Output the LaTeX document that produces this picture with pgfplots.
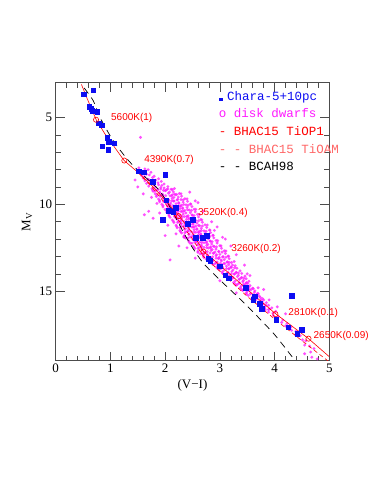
\documentclass[border=0pt]{standalone}
\usepackage{fontspec}
\setmainfont{Liberation Serif}
\newfontfamily\annfont{Liberation Sans}
\newfontfamily\legfont{Liberation Mono}
\usepackage{pgfplots}
\pgfplotsset{compat=1.18}
\definecolor{dotmag}{rgb}{1,0.1,1}
\definecolor{lightred}{rgb}{1,0.4,0.4}
\definecolor{sqblue}{rgb}{0.05,0.05,0.95}
\begin{document}
\begin{tikzpicture}
\path[use as bounding box] (-55.7pt,-134.3pt) rectangle (327.3pt,360.7pt);
\begin{axis}[at={(0pt,0pt)},anchor=south west,scale only axis,width=273.6pt,height=278pt,
xmin=0,xmax=5,ymin=3,ymax=19,y dir=reverse,
xtick={0,1,2,3,4,5},ytick={5,10,15},minor x tick num=4,minor y tick num=4,
major tick length=9pt,minor tick length=5pt,
tick style={black!70,line width=0.5pt},
axis line style={black!70,line width=0.6pt},
/pgf/number format/assume math mode=true,
tick label style={font=\fontsize{13}{13}\selectfont},
xlabel={(V−I)}, ylabel={M\textsubscript{V}},
label style={font=\fontsize{13}{13}\selectfont},
clip mode=individual,
]
% disk dwarfs
\addplot[only marks, mark=*, mark size=1.45pt, color=dotmag, fill opacity=0.75, draw opacity=0.3] coordinates {
(1.52,7.90)(1.63,7.96)(1.50,8.05)(1.58,8.11)(1.69,8.01)(1.55,8.20)(1.66,8.26)(1.74,8.16)
(1.57,8.35)(1.62,8.41)(1.71,8.31)(1.80,8.38)(1.60,8.50)(1.68,8.56)(1.77,8.46)(1.88,8.53)
(1.63,8.65)(1.74,8.71)(1.83,8.61)(1.93,8.68)(1.70,8.58)(1.66,8.80)(1.79,8.86)(1.87,8.76)(1.98,8.83)(1.73,8.73)
(1.70,8.95)(1.82,9.01)(1.94,8.91)(2.05,8.98)(1.88,8.88)
(1.76,9.10)(1.87,9.16)(1.98,9.06)(2.11,9.13)(1.92,9.03)(2.03,9.15)
(1.78,9.25)(1.90,9.31)(2.01,9.21)(2.15,9.28)(1.84,9.18)(2.08,9.30)
(1.82,9.40)(1.96,9.46)(2.06,9.36)(2.21,9.43)(1.90,9.33)(2.13,9.45)(2.26,9.38)
(1.84,9.55)(1.97,9.61)(2.09,9.51)(2.24,9.58)(1.92,9.48)(2.16,9.60)(2.30,9.53)
(1.88,9.70)(2.02,9.76)(2.13,9.66)(2.29,9.73)(1.96,9.63)(2.22,9.75)(2.36,9.68)(2.07,9.78)
(1.90,9.85)(2.04,9.91)(2.16,9.81)(2.33,9.88)(1.98,9.78)(2.25,9.90)(2.41,9.83)(2.10,9.93)
(1.94,10.00)(2.08,10.06)(2.20,9.96)(2.38,10.03)(2.02,9.93)(2.30,10.05)(2.46,9.98)(2.14,10.08)(2.25,9.95)
(1.96,10.15)(2.11,10.21)(2.23,10.11)(2.40,10.18)(2.04,10.08)(2.32,10.20)(2.49,10.13)(2.17,10.23)(2.28,10.10)
(2.00,10.30)(2.15,10.36)(2.27,10.26)(2.44,10.33)(2.08,10.23)(2.36,10.35)(2.53,10.28)(2.21,10.38)(2.32,10.25)
(2.03,10.45)(2.17,10.51)(2.29,10.41)(2.46,10.48)(2.10,10.38)(2.38,10.50)(2.55,10.43)(2.23,10.53)(2.34,10.40)
(2.07,10.60)(2.21,10.66)(2.33,10.56)(2.50,10.63)(2.14,10.53)(2.42,10.65)(2.59,10.58)(2.27,10.68)
(2.09,10.75)(2.24,10.81)(2.35,10.71)(2.52,10.78)(2.17,10.68)(2.44,10.80)(2.61,10.73)(2.30,10.83)(2.39,10.70)
(2.13,10.90)(2.28,10.96)(2.39,10.86)(2.56,10.93)(2.21,10.83)(2.48,10.95)(2.65,10.88)(2.34,10.98)(2.43,10.85)
(2.16,11.05)(2.30,11.11)(2.42,11.01)(2.58,11.08)(2.24,10.98)(2.51,11.10)(2.68,11.03)(2.36,11.13)(2.46,11.00)
(2.20,11.20)(2.34,11.26)(2.46,11.16)(2.63,11.23)(2.28,11.13)(2.56,11.25)(2.73,11.18)(2.41,11.28)(2.51,11.15)
(2.22,11.35)(2.37,11.41)(2.49,11.31)(2.66,11.38)(2.30,11.28)(2.58,11.40)(2.76,11.33)(2.43,11.43)(2.53,11.30)
(2.27,11.50)(2.41,11.56)(2.53,11.46)(2.71,11.53)(2.35,11.43)(2.63,11.55)(2.81,11.48)(2.48,11.58)(2.58,11.45)
(2.30,11.65)(2.44,11.71)(2.56,11.61)(2.73,11.68)(2.38,11.58)(2.65,11.70)(2.83,11.63)(2.51,11.73)(2.61,11.60)
(2.35,11.80)(2.49,11.86)(2.61,11.76)(2.77,11.83)(2.43,11.73)(2.70,11.85)(2.87,11.78)(2.56,11.88)(2.65,11.75)
(2.38,11.95)(2.52,12.01)(2.63,11.91)(2.79,11.98)(2.46,11.88)(2.72,12.00)(2.89,11.93)(2.58,12.03)
(2.43,12.10)(2.57,12.16)(2.68,12.06)(2.83,12.13)(2.51,12.03)(2.76,12.15)(2.93,12.08)(2.63,12.18)
(2.46,12.25)(2.60,12.31)(2.71,12.21)(2.85,12.28)(2.54,12.18)(2.78,12.30)(2.95,12.23)(2.66,12.33)
(2.51,12.40)(2.65,12.46)(2.76,12.36)(2.90,12.43)(2.59,12.33)(2.83,12.45)(3.00,12.38)(2.71,12.48)
(2.54,12.55)(2.68,12.61)(2.79,12.51)(2.93,12.58)(2.62,12.48)(2.86,12.60)(3.03,12.53)
(2.60,12.70)(2.73,12.76)(2.84,12.66)(2.98,12.73)(2.67,12.63)(2.91,12.75)(3.08,12.68)
(2.64,12.85)(2.77,12.91)(2.88,12.81)(3.00,12.88)(2.71,12.78)(2.94,12.90)(3.10,12.83)
(2.70,13.00)(2.83,13.06)(2.93,12.96)(3.05,13.03)(2.77,12.93)(2.99,13.05)(3.15,12.98)
(2.75,13.15)(2.87,13.21)(2.97,13.11)(3.08,13.18)(2.81,13.08)(3.02,13.20)(3.17,13.13)
(2.82,13.30)(2.93,13.36)(3.03,13.26)(3.13,13.33)(2.88,13.23)(3.21,13.35)
(2.87,13.45)(2.97,13.51)(3.07,13.41)(3.16,13.48)(2.93,13.38)(3.23,13.50)
(2.94,13.60)(3.03,13.66)(3.12,13.56)(3.21,13.63)(3.28,13.53)
(2.98,13.75)(3.07,13.81)(3.16,13.71)(3.24,13.78)(3.31,13.68)
(3.04,13.90)(3.13,13.96)(3.22,13.86)(3.30,13.93)(3.37,13.83)
(3.08,14.05)(3.17,14.11)(3.26,14.01)(3.34,14.08)(3.40,13.98)
(3.15,14.20)(3.23,14.26)(3.32,14.16)(3.39,14.23)(3.46,14.13)
(3.19,14.35)(3.28,14.41)(3.36,14.31)(3.43,14.38)(3.48,14.28)
(3.25,14.50)(3.34,14.56)(3.42,14.46)(3.48,14.53)(3.53,14.43)
(3.30,14.65)(3.39,14.71)(3.46,14.61)(3.55,14.68)
(3.37,14.80)(3.46,14.86)(3.53,14.76)(3.60,14.83)
(3.42,14.95)(3.50,15.01)(3.57,14.91)(3.64,14.98)
(3.48,15.10)(3.56,15.16)(3.63,15.06)(3.69,15.13)
(3.52,15.25)(3.60,15.31)(3.67,15.21)(3.72,15.28)
(3.59,15.40)(3.67,15.46)(3.74,15.36)(3.78,15.43)
(3.64,15.55)(3.71,15.61)(3.80,15.51)
(3.70,15.70)(3.78,15.76)(3.85,15.66)
(3.75,15.85)(3.82,15.91)(3.89,15.81)
(3.82,16.00)(3.89,16.06)(3.95,15.96)
(3.89,16.20)(3.97,16.26)(4.02,16.16)
(3.98,16.40)(4.07,16.46)(4.05,16.60)(4.15,16.66)
(4.13,16.80)(4.23,16.86)(4.20,17.00)(4.30,17.06)
(4.31,17.25)(4.39,17.31)(4.38,17.50)(4.47,17.56)
(4.51,17.80)(4.57,17.86)(4.55,18.10)(4.64,18.16)(4.66,18.5)(4.68,18.8)
(1.55,6.15)(2.09,13.2)(1.62,10.6)(1.78,10.8)(1.70,10.4)(2.45,9.3)(2.60,9.9)(3.10,12.0)(2.00,11.8)
(2.25,12.4)(3.50,14.0)(1.60,9.4)(2.90,11.5)(3.80,14.9)(4.20,16.3)(1.85,9.95)(2.35,11.9)(2.70,12.9)
(1.77,9.17)(1.92,9.12)(2.00,9.21)(2.13,9.15)(1.81,9.24)(2.05,9.11)(1.97,9.20)(2.17,9.09)
(1.85,9.47)(1.95,9.42)(2.12,9.51)(2.19,9.45)(1.91,9.54)(2.17,9.41)(2.01,9.50)(2.29,9.39)
(1.90,9.77)(2.06,9.72)(2.16,9.81)(2.33,9.75)(1.97,9.84)(2.23,9.71)(2.12,9.80)(2.40,9.69)
(1.96,10.07)(2.09,10.02)(2.27,10.11)(2.42,10.05)(2.05,10.14)(2.34,10.01)(2.18,10.10)(2.47,9.99)
(2.03,10.37)(2.19,10.32)(2.31,10.41)(2.48,10.35)(2.11,10.44)(2.41,10.31)(2.24,10.40)(2.56,10.29)
(2.07,10.67)(2.27,10.62)(2.41,10.71)(2.53,10.65)(2.18,10.74)(2.49,10.61)(2.31,10.70)(2.63,10.59)
(2.15,10.97)(2.29,10.92)(2.47,11.01)(2.61,10.95)(2.23,11.04)(2.52,10.91)(2.39,11.00)(2.67,10.89)
(2.21,11.27)(2.38,11.22)(2.51,11.31)(2.68,11.25)(2.27,11.34)(2.61,11.21)(2.44,11.30)(2.77,11.19)
(2.28,11.57)(2.43,11.52)(2.61,11.61)(2.75,11.55)(2.36,11.64)(2.66,11.51)(2.53,11.60)(2.82,11.49)
(2.34,11.87)(2.53,11.82)(2.66,11.91)(2.82,11.85)(2.42,11.94)(2.75,11.81)(2.60,11.90)(2.88,11.79)
(2.44,12.17)(2.58,12.12)(2.75,12.21)(2.86,12.15)(2.49,12.24)(2.82,12.11)(2.67,12.20)(2.96,12.09)
(2.53,12.47)(2.67,12.42)(2.83,12.51)(2.94,12.45)(2.60,12.54)(2.88,12.41)(2.76,12.50)(3.02,12.39)
(2.60,12.77)(2.77,12.72)(2.89,12.81)(3.04,12.75)(2.67,12.84)(2.98,12.71)(2.82,12.80)(3.11,12.69)
(2.71,13.07)(2.87,13.02)(2.98,13.11)(3.11,13.05)(2.79,13.14)(3.06,13.01)(2.93,13.10)(3.16,12.99)
(2.84,13.37)(2.95,13.32)(3.09,13.41)(3.17,13.35)(2.90,13.44)(3.14,13.31)(3.01,13.40)(3.26,13.29)
(2.95,13.67)(3.05,13.62)(3.17,13.71)(3.27,13.65)(3.00,13.74)(3.20,13.61)(3.12,13.70)
(3.05,13.97)(3.15,13.92)(3.27,14.01)(3.34,13.95)(3.11,14.04)(3.30,13.91)(3.21,14.00)
(3.16,14.27)(3.24,14.22)(3.35,14.31)(3.44,14.25)(3.19,14.34)(3.40,14.21)
(3.27,14.57)(3.36,14.52)(3.43,14.61)(3.51,14.55)(3.31,14.64)(3.49,14.51)
(3.39,14.87)(3.45,14.82)(3.54,14.91)(3.61,14.85)(3.41,14.94)
(3.49,15.17)(3.56,15.12)(3.62,15.21)(3.70,15.15)
(3.60,15.47)(3.65,15.42)(3.75,15.51)
(3.72,15.77)(3.79,15.72)(3.84,15.81)
(3.83,16.07)(3.91,16.02)
(2.55,9.8)(2.70,10.4)(2.85,11.0)(2.95,11.3)(3.05,11.9)(3.20,12.4)(3.30,12.9)(3.45,13.5)
(3.55,14.1)(3.70,14.8)(3.90,15.5)(4.05,15.9)(1.75,9.6)(1.90,10.5)(2.05,11.2)(2.20,11.7)
(2.40,12.5)(1.50,9.0)(1.45,8.6)(2.55,13.1)(3.00,14.4)(3.30,15.1)(4.55,18.6)(4.78,18.9)(4.72,18.3)
};
% BCAH98
\addplot[black, line width=0.7pt, dash pattern=on 7pt off 5pt, smooth, tension=0.4] coordinates {
(0.52,3.3)(0.687,4.04)(0.81,5.0)(1.05,6.34)(1.33,7.48)(1.57,8.24)(1.88,9.15)(2.05,9.95)(2.2,10.8)(2.35,11.7)(2.5,12.5)(2.7,13.4)(3.0,14.35)(3.5,15.85)(4.0,17.5)(4.375,19.0)
};
% BHAC15 TiOAM
\addplot[red, line width=0.6pt, dash pattern=on 4pt off 3pt] coordinates {
(1.5,8.15)(1.75,8.98)(2.0,9.95)(2.25,10.95)(2.5,12.0)(2.7,13.0)(3.0,13.85)(3.5,15.3)(4.0,16.6)(4.5,17.85)(4.97,19.0)
};
% BHAC15 TiOP1
\addplot[red, line width=0.6pt] coordinates {
(0.47,3.1)(0.6,4.1)(0.74,5.13)(0.9,5.95)(1.05,6.6)(1.25,7.48)(1.5,8.15)(1.75,8.9)(2.0,9.75)(2.25,10.65)(2.5,11.65)(2.7,12.71)(3.0,13.5)(3.5,14.9)(4.0,16.25)(4.62,17.73)(5.0,18.77)
};
% Chara stars
\addplot[only marks, mark=square*, mark size=2.3pt, color=sqblue] coordinates {
(0.517,3.66)(0.682,3.43)(0.61,4.37)(0.651,4.5)(0.67,4.62)(0.76,4.66)(0.79,5.32)(0.84,5.44)
(0.94,6.18)(0.97,6.39)(1.07,6.49)(0.85,6.66)(0.96,6.87)(1.52,8.09)(1.61,8.15)(1.77,8.69)(2.0,8.3)
(1.95,10.88)(2.02,9.77)(2.07,10.35)(2.15,10.44)(2.19,10.2)(2.41,11.1)(2.50,10.88)(2.56,11.93)
(2.69,11.93)(2.76,11.82)(2.79,13.12)(2.82,13.25)(3.0,13.56)(3.10,14.07)(3.16,14.26)(3.47,14.8)
(3.64,15.28)(3.61,15.5)(3.73,15.73)(3.77,16.02)(4.31,15.26)(4.03,16.65)(4.25,17.07)(4.41,17.45)(4.50,17.22)
};
% model points
\addplot[only marks, mark=o, mark size=2.6pt, red, line width=0.6pt] coordinates {
(0.737,5.13)(1.254,7.48)(2.25,10.68)(2.70,12.72)(4.015,16.32)(4.62,17.73)
};
% legend symbol
\addplot[only marks, mark=square*, mark size=1.4pt, color=sqblue] coordinates {(3.02,3.95)};
\node[anchor=base west, inner sep=0pt, text=sqblue, font=\legfont\fontsize{12.5}{13}\selectfont] at (axis cs:3.13,4.04) {Chara-5+10pc};
\node[anchor=base west, inner sep=0pt, text=dotmag, font=\legfont\fontsize{12.5}{13}\selectfont] at (axis cs:2.98,5.0) {o disk dwarfs};
\node[anchor=base west, inner sep=0pt, text=red, font=\legfont\fontsize{12.5}{13}\selectfont] at (axis cs:2.98,6.05) {- BHAC15 TiOP1};
\node[anchor=base west, inner sep=0pt, text=lightred, font=\legfont\fontsize{12.5}{13}\selectfont] at (axis cs:2.98,7.06) {- - BHAC15 TiOAM};
\node[anchor=base west, inner sep=0pt, text=black, font=\legfont\fontsize{12.5}{13}\selectfont] at (axis cs:2.98,8.05) {- - BCAH98};
% annotations
\node[anchor=west, inner sep=0pt, text=red, font=\annfont\fontsize{10}{10}\selectfont] at (axis cs:1.01,5.0) {5600K(1)};
\node[anchor=west, inner sep=0pt, text=red, font=\annfont\fontsize{10}{10}\selectfont] at (axis cs:1.615,7.44) {4390K(0.7)};
\node[anchor=west, inner sep=0pt, text=red, font=\annfont\fontsize{10}{10}\selectfont] at (axis cs:2.60,10.51) {3520K(0.4)};
\node[anchor=west, inner sep=0pt, text=red, font=\annfont\fontsize{10}{10}\selectfont] at (axis cs:3.205,12.55) {3260K(0.2)};
\node[anchor=west, inner sep=0pt, text=red, font=\annfont\fontsize{10}{10}\selectfont] at (axis cs:4.25,16.27) {2810K(0.1)};
\node[anchor=west, inner sep=0pt, text=red, font=\annfont\fontsize{10}{10}\selectfont] at (axis cs:4.71,17.55) {2650K(0.09)};
\end{axis}
\end{tikzpicture}
\end{document}
